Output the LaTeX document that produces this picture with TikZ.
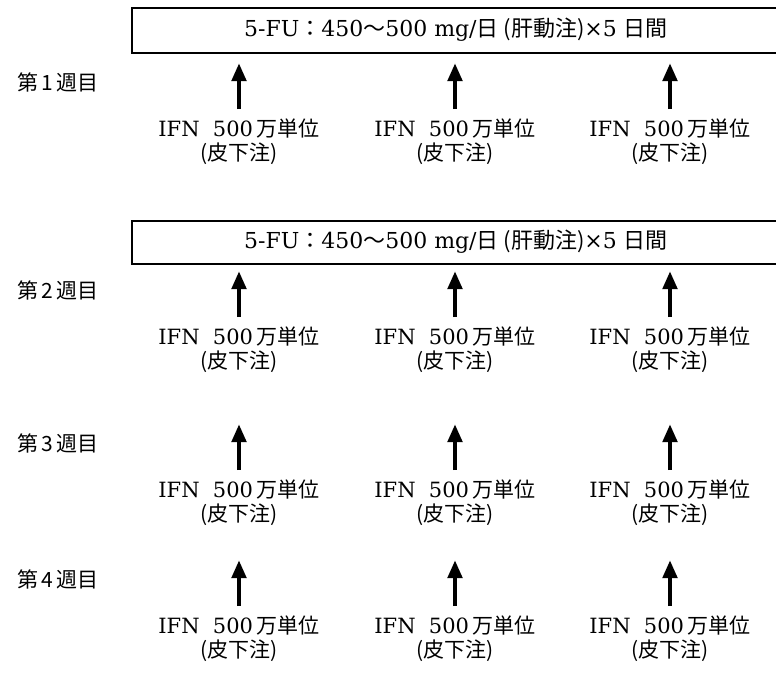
\documentclass[tikz,border=0pt]{standalone}
\usepackage{fontspec}
\setmainfont{DejaVu Serif}
\newfontfamily\jp{Noto Sans CJK JP}
\usetikzlibrary{arrows.meta}
\begin{document}
\begin{tikzpicture}[x=1pt,y=-1pt,
  every node/.style={inner sep=0pt, font=\fontsize{21}{25}\selectfont},
  boxtext/.style={font=\fontsize{22}{26}\selectfont},
  boxline/.style={line width=1.6pt},
  uparrow/.style={line width=4.5pt, -{Triangle[width=14pt,length=18pt]}},
  week/.style={font=\fontsize{21}{25}\selectfont\jp}]
\useasboundingbox (0,0) rectangle (776,681);
\begin{scope}
\clip (0,0) rectangle (776,681);
\node (box1) [draw, boxline, minimum width=669pt, minimum height=45pt, anchor=north west] at (131,7) {};
\node (box2) [draw, boxline, minimum width=669pt, minimum height=43pt, anchor=north west] at (131,220) {};
\end{scope}
\node[boxtext] (fu1) at (456,30) {5-FU{\jp ：}450{\jp ～}500 mg/{\jp 日 (肝動注)}×5 {\jp 日間}};
\node[boxtext] (fu2) at (456,242) {5-FU{\jp ：}450{\jp ～}500 mg/{\jp 日 (肝動注)}×5 {\jp 日間}};
% weeks: number / arrow tip y
\foreach \w/\tip in {1/63, 2/271, 3/424, 4/560}{
  \pgfmathsetmacro{\bot}{\tip+46}
  \pgfmathsetmacro{\mid}{\tip+19}
  \pgfmathsetmacro{\ifn}{\tip+66}
  \pgfmathsetmacro{\sc}{\tip+91}
  \node[week] (wk\w) at (58,\mid) {第\,\w\,週目};
  \foreach \c/\x in {1/239, 2/455, 3/670}{
    \coordinate (tail-\w-\c) at (\x,\bot);
    \coordinate (tip-\w-\c) at (\x,\tip);
    \draw[uparrow] (tail-\w-\c) -- (tip-\w-\c);
    \node (ifn-\w-\c) at (\x,\ifn) {IFN\ \ 500\,{\jp 万単位}};
    \node (sc-\w-\c) at (\x,\sc) {{\jp (皮下注)}};
  }
}
\end{tikzpicture}
\end{document}
